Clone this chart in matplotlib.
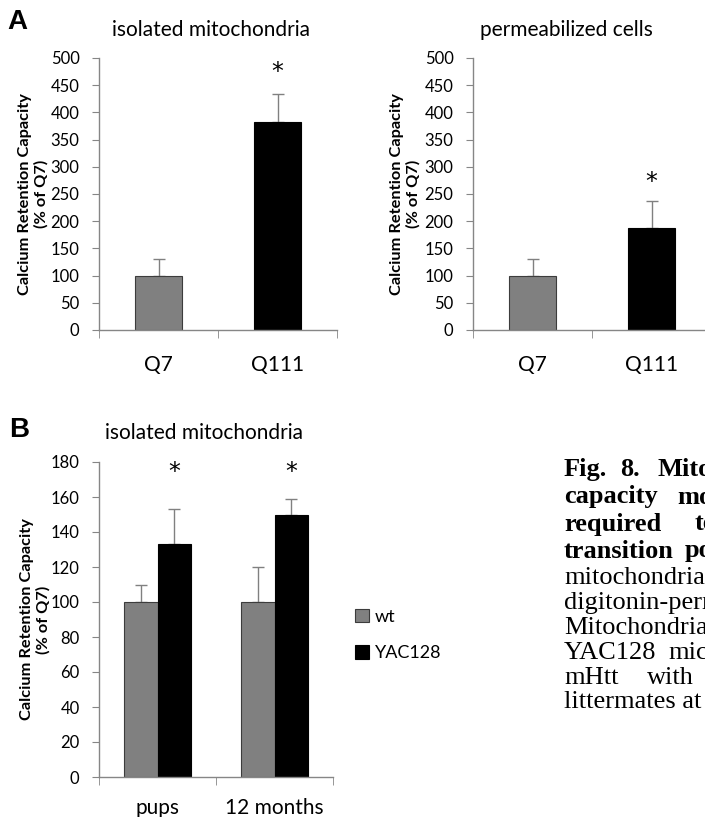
import matplotlib
matplotlib.use("Agg")
import matplotlib.pyplot as plt
from matplotlib.ticker import FixedLocator

plt.rcParams['font.family'] = ['Lato', 'DejaVu Sans']

# panel A data
a_groups = ['Q7', 'Q111']
a_mito_mean = [100, 382]
a_mito_err = [30, 52]
a_mito_star = [None, 474]
a_cells_mean = [100, 187]
a_cells_err = [30, 50]
a_cells_star = [None, 272]

# panel B data
b_groups = ['pups', '12 months']
b_series = ['wt', 'YAC128']
b_wt_mean = [100, 100]
b_wt_err = [10, 20]
b_yac_mean = [133, 150]
b_yac_err = [20, 9]
b_star = [174, 174]

W, H = 705, 817
fig = plt.figure(figsize=(W / 100, H / 100), dpi=100)

GRAY = '#808080'
AXC = '#868686'
bar_cols = [GRAY, 'black']
edge_cols = ['#3c3c3c', 'black']


def box(x0, x1, ytop, ybot):
    return [x0 / W, 1 - ybot / H, (x1 - x0) / W, (ybot - ytop) / H]


def style_axes(ax, ymax, ystep, labels):
    ax.set_xlim(-0.5, 1.5)
    ax.set_ylim(0, ymax)
    ax.set_yticks(range(0, ymax + 1, ystep))
    for s in ['top', 'right']:
        ax.spines[s].set_visible(False)
    for s in ['left', 'bottom']:
        ax.spines[s].set_color(AXC)
        ax.spines[s].set_linewidth(1.0)
    ax.set_xticks([0, 1])
    ax.set_xticklabels(labels, fontsize=15)
    ax.xaxis.set_minor_locator(FixedLocator([-0.5, 0.5, 1.5]))
    ax.tick_params(axis='x', which='major', length=0, pad=18)
    ax.tick_params(axis='x', which='minor', length=6, color=AXC, direction='out')
    ax.tick_params(axis='y', length=5, color=AXC, direction='out', pad=9, labelsize=12)
    ax.set_ylabel('Calcium Retention Capacity\n(% of Q7)', fontsize=11.8,
                  fontweight='bold', linespacing=1.2)


def star(ax, x, y):
    ax.text(x, y, '*', ha='center', va='center', fontsize=17, family=['DejaVu Sans'])


def panel_a(ax, means, errs, stars):
    x = list(range(len(a_groups)))
    ax.bar(x, means, width=0.4, color=bar_cols, edgecolor=edge_cols, linewidth=0.8, zorder=2)
    ax.errorbar(x, means, yerr=[[0] * len(errs), errs], fmt='none', ecolor=GRAY,
                elinewidth=1, capsize=4, capthick=1, zorder=1)
    for xi, s in zip(x, stars):
        if s is not None:
            star(ax, xi, s)
    style_axes(ax, 500, 50, a_groups)


ax1 = fig.add_axes(box(99, 337, 58, 330))
panel_a(ax1, a_mito_mean, a_mito_err, a_mito_star)
ax1.yaxis.set_label_coords(-50 / 238, 0.5)

ax2 = fig.add_axes(box(473, 711, 58, 330))
panel_a(ax2, a_cells_mean, a_cells_err, a_cells_star)
ax2.yaxis.set_label_coords(-52 / 238, 0.5)

ax3 = fig.add_axes(box(99, 333, 462, 777))
bw = 0.287
xw = [i - bw / 2 for i in range(len(b_groups))]
xy = [i + bw / 2 for i in range(len(b_groups))]
h1 = ax3.bar(xw, b_wt_mean, width=bw, color=GRAY, edgecolor='#3c3c3c', linewidth=0.8,
             label=b_series[0], zorder=2)
ax3.errorbar(xw, b_wt_mean, yerr=[[0, 0], b_wt_err], fmt='none', ecolor=GRAY,
             elinewidth=1, capsize=4, capthick=1, zorder=1)
h2 = ax3.bar(xy, b_yac_mean, width=bw, color='black', edgecolor='black', linewidth=0.8,
             label=b_series[1], zorder=2)
ax3.errorbar(xy, b_yac_mean, yerr=[[0, 0], b_yac_err], fmt='none', ecolor=GRAY,
             elinewidth=1, capsize=4, capthick=1, zorder=1)
for xi, s in zip(xy, b_star):
    star(ax3, xi, s)
style_axes(ax3, 180, 20, b_groups)
ax3.tick_params(axis='x', which='major', pad=15)
ax3.yaxis.set_label_coords(-48 / 234, 0.5)

fig.legend(handles=[h1, h2], labels=b_series, loc='center left',
           bbox_to_anchor=(355 / W, 1 - 635 / H), frameon=False, fontsize=13,
           handlelength=0.75, handleheight=0.75, handletextpad=0.35,
           labelspacing=1.15, borderpad=0, borderaxespad=0)

# titles and panel letters
fig.text(211 / W, 1 - 30 / H, 'isolated mitochondria', ha='center', va='center', fontsize=15)
fig.text(566 / W, 1 - 30 / H, 'permeabilized cells', ha='center', va='center', fontsize=15)
fig.text(204 / W, 1 - 433 / H, 'isolated mitochondria', ha='center', va='center', fontsize=15)
fig.text(7 / W, 1 - 22 / H, 'A', ha='left', va='center', fontsize=20, fontweight='bold',
         family=['Liberation Sans'])
fig.text(9 / W, 1 - 430 / H, 'B', ha='left', va='center', fontsize=20, fontweight='bold',
         family=['Liberation Sans'])

# caption (cut off at the right edge)
cap_lines = [
    ([(564, 'Fig.'), (620, '8.'), (657, 'Mitochondrial')], True),
    ([(564, 'capacity'), (677, 'more')], True),
    ([(564, 'required'), (695, 'to')], True),
    ([(564, 'transition'), (685, 'pore')], True),
    ([(564, 'mitochondria')], False),
    ([(564, 'digitonin-permeabilized')], False),
    ([(564, 'Mitochondria')], False),
    ([(564, 'YAC128'), (668, 'mice')], False),
    ([(564, 'mHtt'), (647, 'with')], False),
    ([(564, 'littermates at')], False),
]
cap_y = [470, 497, 524, 551, 578, 603, 628, 653, 678, 702]
for (words, bold), yy in zip(cap_lines, cap_y):
    for xx, w in words:
        fig.text(xx / W, 1 - yy / H, w, ha='left', va='center', fontsize=19,
                 fontweight='bold' if bold else 'normal', family=['Liberation Serif'])

fig.savefig('out.png', dpi=100)
